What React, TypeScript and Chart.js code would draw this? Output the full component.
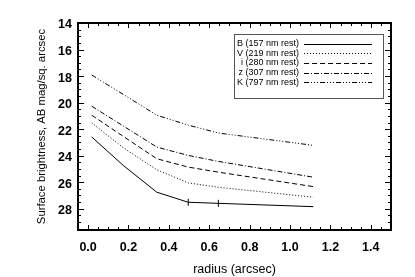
import React, { useEffect, useRef } from 'react';
import { Chart, registerables } from 'chart.js';

Chart.register(...registerables);

// ---- data ----
const radius = [0.018, 0.174, 0.34, 0.496, 0.645, 1.115];
const bandB = [22.59, 24.73, 26.75, 27.51, 27.59, 27.84];
const bandV = [21.53, 23.4, 25.06, 26.05, 26.38, 27.13];
const bandI = [20.95, 22.54, 24.23, 24.86, 25.24, 26.33];
const bandZ = [20.27, 21.76, 23.35, 23.98, 24.43, 25.62];
const bandK = [17.92, 19.38, 20.95, 21.7, 22.29, 23.22];
const seriesLabels = [
  'B (157 nm rest)',
  'V (219 nm rest)',
  'i (280 nm rest)',
  'z (307 nm rest)',
  'K (797 nm rest)',
];
const xTickValues = [0, 0.2, 0.4, 0.6, 0.8, 1.0, 1.2, 1.4];
const xTickLabels = ['0.0', '0.2', '0.4', '0.6', '0.8', '1.0', '1.2', '1.4'];
const yTickValues = [14, 16, 18, 20, 22, 24, 26, 28];
const yTickLabels = ['14', '16', '18', '20', '22', '24', '26', '28'];
const xTitle = 'radius (arcsec)';
const yTitle = 'Surface brightness, AB mag/sq. arcsec';

const X_MIN = -0.05, X_MAX = 1.5, Y_MIN = 14, Y_MAX = 29.6;
const dashes = [[], [1, 2], [5, 3], [5, 2, 1, 2], [5, 2, 1, 2, 1, 2, 1, 2]];
const FONT = '"Liberation Sans", Arial, Helvetica, sans-serif';

const idlPlugin = {
  id: 'idlFrame',
  afterDraw(chart: any) {
    const ctx = chart.ctx;
    const { left, right, top, bottom } = chart.chartArea;
    const xs = chart.scales.x;
    const ys = chart.scales.y;
    ctx.save();
    ctx.strokeStyle = '#000';
    ctx.lineWidth = 1;
    ctx.beginPath();
    for (let i = 0; i <= 31; i++) {
      const v = X_MIN + i * 0.05;
      const px = Math.round(xs.getPixelForValue(v)) + 0.5;
      const len = (i - 1) % 4 === 0 ? 5 : 3;
      ctx.moveTo(px, bottom);
      ctx.lineTo(px, bottom - len);
      ctx.moveTo(px, top);
      ctx.lineTo(px, top + len);
    }
    for (let i = 0; i <= 31; i++) {
      const v = Y_MIN + i * 0.5;
      const py = Math.round(ys.getPixelForValue(v)) + 0.5;
      const len = i % 4 === 0 ? 6 : 3;
      ctx.moveTo(left, py);
      ctx.lineTo(left + len, py);
      ctx.moveTo(right, py);
      ctx.lineTo(right - len, py);
    }
    ctx.stroke();
    ctx.lineWidth = 2;
    ctx.strokeRect(left, top, right - left, bottom - top);

    // legend
    const bx = 234, by = 34, bw = 149, bh = 64;
    ctx.lineWidth = 1;
    ctx.strokeStyle = '#555';
    ctx.strokeRect(bx + 0.5, by + 0.5, bw, bh);
    ctx.font = '9px ' + FONT;
    ctx.fillStyle = '#000';
    ctx.textAlign = 'right';
    ctx.textBaseline = 'middle';
    chart.data.datasets.forEach((ds: any, i: number) => {
      const y = by + 9.5 + i * 9.7;
      ctx.fillText(ds.label, 299, y);
      ctx.strokeStyle = '#000';
      ctx.setLineDash(ds.borderDash || []);
      ctx.beginPath();
      ctx.moveTo(304, Math.round(y) + 0.5);
      ctx.lineTo(372, Math.round(y) + 0.5);
      ctx.stroke();
      ctx.setLineDash([]);
    });
    ctx.restore();
  },
};

export default function App() {
  const ref = useRef<HTMLCanvasElement | null>(null);
  useEffect(() => {
    if (!ref.current) return;
    const series = [bandB, bandV, bandI, bandZ, bandK];
    const chart = new Chart(ref.current, {
      type: 'line',
      data: {
        datasets: series.map((vals, i) => ({
          label: seriesLabels[i],
          data: radius.map((r, j) => ({ x: r, y: vals[j] })),
          borderColor: '#000',
          backgroundColor: '#000',
          borderWidth: 1,
          borderDash: dashes[i],
          pointRadius: i === 0 ? (c: any) => (c.dataIndex === 3 || c.dataIndex === 4 ? 3.5 : 0) : 0,
          pointStyle: 'line',
          pointRotation: 90,
          pointBorderWidth: 1,
          tension: 0,
          fill: false,
        })),
      },
      options: {
        responsive: false,
        animation: false,
        devicePixelRatio: 1,
        layout: { padding: { left: 0, right: 24, top: 23, bottom: 0 } },
        plugins: { legend: { display: false }, tooltip: { enabled: false } },
        scales: {
          x: {
            type: 'linear',
            min: X_MIN,
            max: X_MAX,
            afterFit: (s: any) => { s.height = 47; },
            afterBuildTicks: (s: any) => { s.ticks = xTickValues.map((v) => ({ value: v })); },
            grid: { display: false, drawTicks: false },
            border: { display: false },
            ticks: {
              padding: 10,
              color: '#000',
              maxRotation: 0,
              autoSkip: false,
              font: { family: FONT, size: 12.5, weight: 'bold' },
              callback: (v: any) => {
                const k = xTickValues.findIndex((t) => Math.abs(t - v) < 1e-6);
                return k >= 0 ? xTickLabels[k] : '';
              },
            },
            title: {
              display: true,
              text: xTitle,
              color: '#000',
              font: { family: FONT, size: 12.5 },
              padding: { top: 0, bottom: 0 },
            },
          },
          y: {
            type: 'linear',
            reverse: true,
            min: Y_MIN,
            max: Y_MAX,
            afterFit: (s: any) => { s.width = 78; },
            afterBuildTicks: (s: any) => { s.ticks = yTickValues.map((v) => ({ value: v })); },
            grid: { display: false, drawTicks: false },
            border: { display: false },
            ticks: {
              padding: 6,
              color: '#000',
              autoSkip: false,
              labelOffset: 2,
              font: { family: FONT, size: 12.5, weight: 'bold' },
              callback: (v: any) => {
                const k = yTickValues.findIndex((t) => Math.abs(t - v) < 1e-6);
                return k >= 0 ? yTickLabels[k] : '';
              },
            },
            title: {
              display: true,
              text: yTitle,
              color: '#000',
              font: { family: FONT, size: 11.3 },
              padding: { top: 35, bottom: 0 },
            },
          },
        },
      },
      plugins: [idlPlugin],
    } as any);
    return () => chart.destroy();
  }, []);
  return (
    <div style={{ position: 'fixed', left: 0, top: 0, width: 415, height: 277, background: '#fff' }}>
      <canvas ref={ref} width={415} height={277} />
    </div>
  );
}
